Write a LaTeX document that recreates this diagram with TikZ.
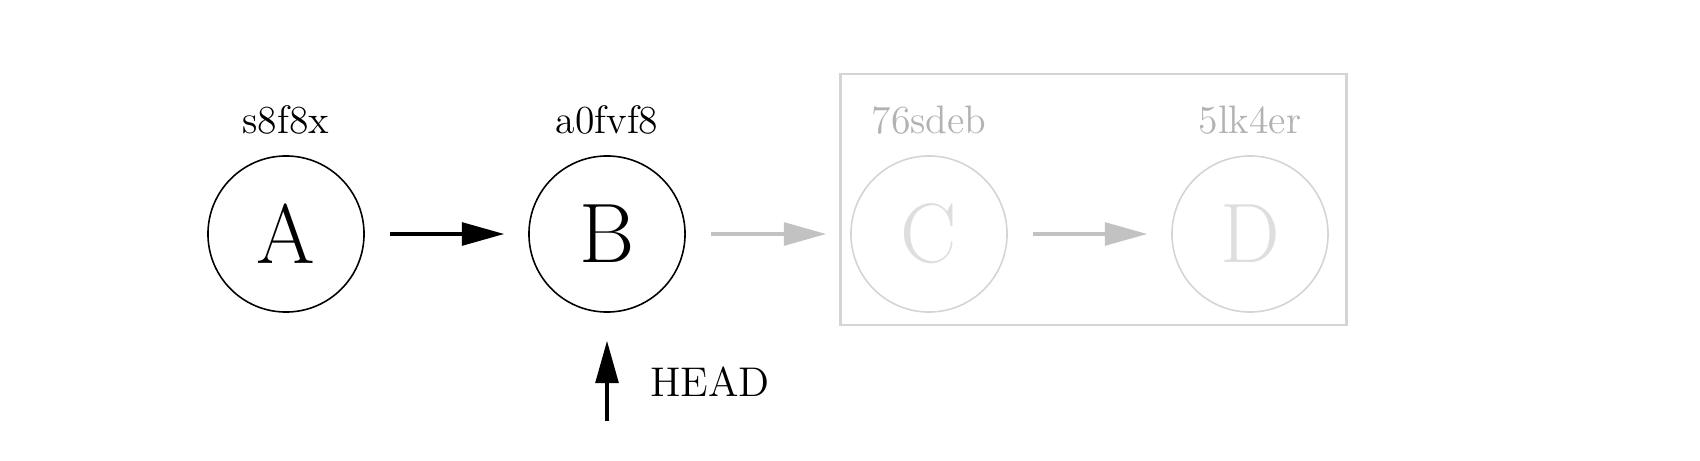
\documentclass[tikz,border=0pt]{standalone}
\usetikzlibrary{arrows.meta}
\definecolor{ghostline}{gray}{0.83}
\definecolor{ghostarrow}{gray}{0.76}
\definecolor{ghosttext}{gray}{0.70}
\definecolor{ghostletter}{gray}{0.87}
\tikzset{
  commit/.style={circle, draw, line width=0.45pt, minimum size=1.56cm, inner sep=0pt, font=\fontsize{24}{24}\selectfont},
  ghost/.style={commit, draw=ghostline, text=ghostletter},
  hash/.style={anchor=base, font=\fontsize{11.3}{13}\selectfont},
  ghosthash/.style={hash, text=ghosttext},
  arr/.style={-{Triangle[length=12pt,width=6.5pt]}, line width=0.9pt, shorten <=0.25cm, shorten >=0.24cm},
  ghostarr/.style={arr, draw=ghostarrow, fill=ghostarrow},
  frame/.style={draw=ghostline, line width=0.8pt, minimum width=5.05cm, minimum height=2.51cm, inner sep=0pt}
}
\begin{document}
\begin{tikzpicture}[x=0.01cm,y=-0.01cm]
\useasboundingbox (0,0) rectangle (1700,461);
\node[frame] (box) at (1093.5,199.5) {};
\node[commit] (A) at (286,234) {A};
\node[commit] (B) at (607,234) {B};
\node[ghost] (C) at (929,234) {C};
\node[ghost] (D) at (1250,234) {D};
\node[hash] (hA) at (286,134) {s8f8x};
\node[hash] (hB) at (607,134) {a0fvf8};
\node[ghosthash] (hC) at (929,134) {76sdeb};
\node[ghosthash] (hD) at (1250,134) {5lk4er};
\draw[arr] (A) -- (B);
\draw[ghostarr] (B) -- (C);
\draw[ghostarr] (C) -- (D);
\coordinate (headtail) at (607,421);
\node[anchor=west, font=\fontsize{11.8}{13}\selectfont] (head) at (638,382) {HEAD};
\draw[arr, shorten <=0pt, shorten >=0.28cm] (headtail) -- (B.south);
\end{tikzpicture}
\end{document}
